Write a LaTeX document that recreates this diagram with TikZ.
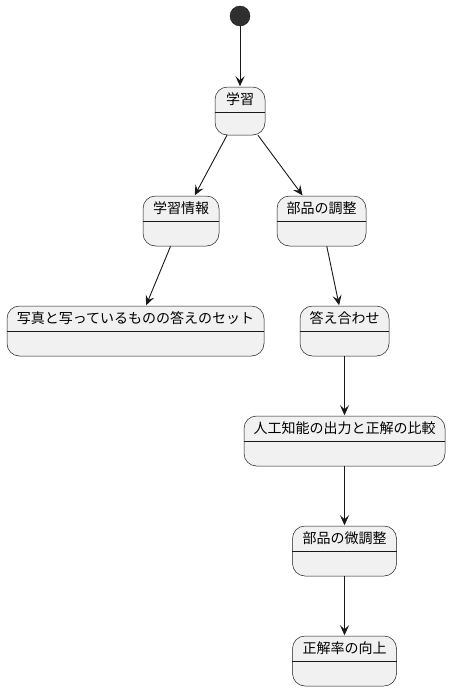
\documentclass[tikz,border=0pt]{standalone}
\usepackage{fontspec}
\setmainfont{Noto Sans CJK JP}
\usetikzlibrary{arrows.meta}
\definecolor{boxfill}{HTML}{F1F1F1}
\definecolor{boxline}{HTML}{181818}
\tikzset{
  statebox/.style={draw=boxline, fill=boxfill, line width=0.5pt, rounded corners=12.5pt, inner sep=0pt},
  divider/.style={draw=boxline, line width=0.5pt},
  conn/.style={draw=boxline, line width=0.9pt, -{Stealth[length=10pt,width=9pt,inset=4pt]}, shorten >=0.5pt},
  lbl/.style={font=\fontsize{14}{16}\selectfont, text=black, inner sep=0pt, anchor=center}
}
\newcommand{\mkstate}[6]{% name, x, y(center), width, height, text
  \node[statebox, minimum width=#4pt, minimum height=#5pt] (#1) at (#2,#3) {};
  \draw[divider] ([yshift=-25.5pt]#1.north west) -- ([yshift=-25.5pt]#1.north east);
  \node[lbl] (#1-t) at ([yshift=-12.5pt]#1.north) {#6};
}
\begin{document}
\begin{tikzpicture}[x=1pt,y=-1pt]
\useasboundingbox (0,0) rectangle (451,691);
\node[circle, fill=boxline!90!white, draw=boxline, minimum size=20pt, inner sep=0pt] (start) at (240,16) {};
\mkstate{gakushu}{240}{111}{50}{48}{学習}
\mkstate{joho}{181}{221}{76}{50}{学習情報}
\mkstate{chosei}{321.5}{221}{89}{50}{部品の調整}
\mkstate{shashin}{135.5}{331}{257}{50}{写真と写っているものの答えのセット}
\mkstate{kotae}{344.5}{331}{89}{50}{答え合わせ}
\mkstate{hikaku}{344.5}{441}{201}{50}{人工知能の出力と正解の比較}
\mkstate{bichosei}{344.5}{551}{104}{50}{部品の微調整}
\mkstate{kojo}{344.5}{661}{104}{50}{正解率の向上}
\draw[conn] (start) -- (gakushu);
\draw[conn] (gakushu) -- (joho);
\draw[conn] (gakushu) -- (chosei);
\draw[conn] (joho) -- (shashin);
\draw[conn] (chosei) -- (kotae);
\draw[conn] (kotae.south) -- (hikaku.north);
\draw[conn] (hikaku.south) -- (bichosei.north);
\draw[conn] (bichosei.south) -- (kojo.north);
\end{tikzpicture}
\end{document}
